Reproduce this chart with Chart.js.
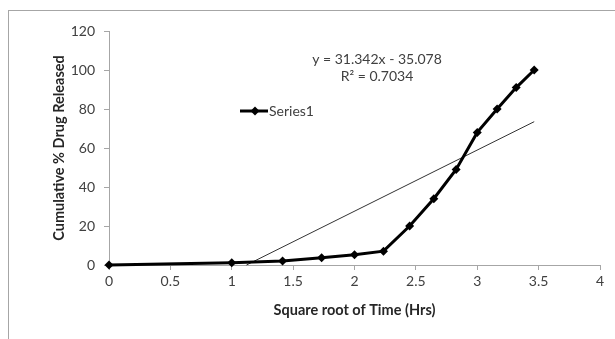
<!DOCTYPE html>
<html><head><meta charset="utf-8">
<script src="https://cdn.jsdelivr.net/npm/chart.js@4/dist/chart.umd.min.js"></script>
<style>html,body{margin:0;padding:0;background:#fff}#wrap{width:615px;height:339px;position:relative}</style>
</head><body><div id="wrap"><canvas id="c" width="615" height="339"></canvas></div>
<script>
const xValues = [0, 1, 1.414, 1.732, 2, 2.236, 2.449, 2.646, 2.828, 3, 3.162, 3.317, 3.464];
const yValues = [0, 1.2, 2, 3.7, 5.3, 7.1, 20, 34, 49, 68, 80, 91, 100];
const trendX = [1.12, 3.464];
const trendY = [0, 73.5];
const xTicks = [0, 0.5, 1, 1.5, 2, 2.5, 3, 3.5, 4];
const yTicks = [0, 20, 40, 60, 80, 100, 120];
const seriesName = 'Series1';
const equationText = 'y = 31.342x - 35.078';
const r2Text = 'R² = 0.7034';

const FONT = 'Lato, Carlito, Calibri, sans-serif';

const overlay = {
  id: 'overlay',
  beforeDraw(chart) {
    const ctx = chart.ctx;
    ctx.save();
    ctx.fillStyle = '#fff';
    ctx.fillRect(0, 0, chart.width, chart.height);
    ctx.strokeStyle = '#a6a6a6';
    ctx.lineWidth = 1;
    ctx.strokeRect(8.5, 10.5, 640, 400);
    ctx.restore();
  },
  afterDraw(chart) {
    const ctx = chart.ctx;
    const a = chart.chartArea;
    ctx.save();
    ctx.fillStyle = '#404040';
    ctx.font = '14px ' + FONT;
    ctx.textAlign = 'center';
    ctx.textBaseline = 'middle';
    const cx = a.left + 268;
    ctx.fillText(equationText, cx, a.top + 28);
    ctx.fillText(r2Text, cx, a.top + 45);
    // legend
    const ly = a.top + 80;
    const lx = a.left + 131;
    ctx.strokeStyle = '#000';
    ctx.lineWidth = 3;
    ctx.beginPath(); ctx.moveTo(lx, ly); ctx.lineTo(lx + 28, ly); ctx.stroke();
    ctx.fillStyle = '#000';
    ctx.beginPath();
    const mx = lx + 15, r = 4.5;
    ctx.moveTo(mx, ly - r); ctx.lineTo(mx + r, ly); ctx.lineTo(mx, ly + r); ctx.lineTo(mx - r, ly); ctx.closePath(); ctx.fill();
    ctx.fillStyle = '#404040';
    ctx.textAlign = 'left';
    ctx.fillText(seriesName, lx + 29, ly);
    ctx.restore();
  }
};

new Chart(document.getElementById('c'), {
  type: 'scatter',
  data: {
    datasets: [
      {
        label: 'Linear',
        data: trendX.map((x, i) => ({x, y: trendY[i]})),
        showLine: true,
        borderColor: '#333',
        borderWidth: 1,
        pointRadius: 0,
        clip: false,
        order: 2
      },
      {
        label: seriesName,
        data: xValues.map((x, i) => ({x, y: yValues[i]})),
        showLine: true,
        borderColor: '#000',
        backgroundColor: '#000',
        borderWidth: 3,
        pointStyle: 'rectRot',
        pointRadius: 4.5,
        pointBorderWidth: 0,
        pointBackgroundColor: '#000',
        clip: false,
        order: 1
      }
    ]
  },
  options: {
    responsive: false,
    animation: false,
    devicePixelRatio: 1,
    layout: { padding: { left: 0, right: 15, top: 31, bottom: 0 } },
    plugins: { legend: { display: false }, tooltip: { enabled: false } },
    scales: {
      x: {
        type: 'linear', min: 0, max: 4,
        afterBuildTicks: s => { s.ticks = xTicks.map(v => ({value: v})); },
        afterFit: s => { s.height = 74; },
        grid: { drawOnChartArea: false, drawTicks: true, tickLength: 5, color: '#a6a6a6' },
        border: { color: '#a6a6a6' },
        ticks: { color: '#404040', font: { family: FONT, size: 14 }, padding: 3, maxRotation: 0,
                 callback: v => String(v) },
        title: { display: true, text: 'Square root of Time (Hrs)', color: '#262626',
                 font: { family: FONT, size: 14.5, weight: 'bold' }, padding: { top: 0, bottom: 20 } }
      },
      y: {
        type: 'linear', min: 0, max: 120,
        afterBuildTicks: s => { s.ticks = yTicks.map(v => ({value: v})); },
        afterFit: s => { s.width = 109; },
        grid: { drawOnChartArea: false, drawTicks: true, tickLength: 5, color: '#a6a6a6' },
        border: { color: '#a6a6a6' },
        ticks: { color: '#404040', font: { family: FONT, size: 14 }, padding: 9 },
        title: { display: true, text: 'Cumulative % Drug Released', color: '#262626',
                 font: { family: FONT, size: 14.5, weight: 'bold' }, padding: { top: 51, bottom: 0 } }
      }
    }
  },
  plugins: [overlay]
});
</script></body></html>
